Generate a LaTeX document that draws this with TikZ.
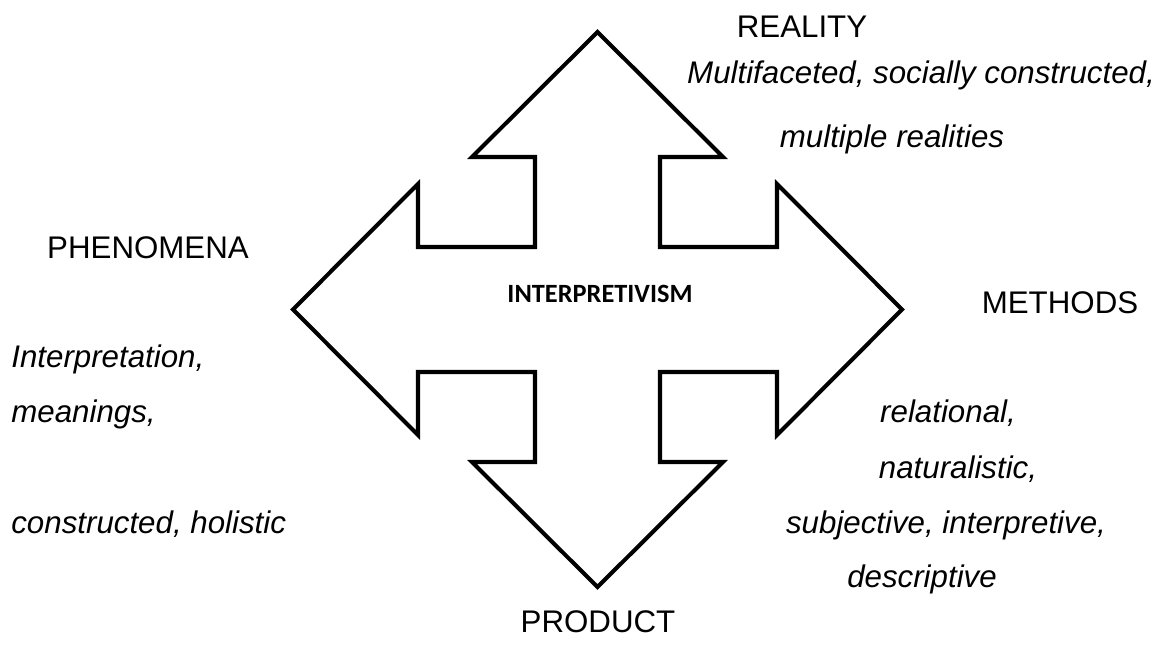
\documentclass[tikz,border=0pt]{standalone}
\usepackage{fontspec}
\setmainfont{Liberation Sans}
\newfontfamily\carlito{Carlito}

\begin{document}
\begin{tikzpicture}[x=0.02cm, y=-0.02cm,
    lbl/.style={anchor=base, inner sep=0pt, font=\fontsize{17.8}{21}\selectfont},
    note/.style={anchor=base, inner sep=0pt, font=\fontsize{17.8}{21}\selectfont\itshape},
    leftnote/.style={note, anchor=base west}]
    \useasboundingbox (0,0) rectangle (1167,646);

    % four-way arrow
    \draw [line width=2.3pt] (597.5,32) -- (723,157) -- (660,157) -- (660,247)
        -- (777,247) -- (777,184) -- (902,309.5) -- (777,435) -- (777,372)
        -- (660,372) -- (660,462) -- (723,462) -- (597.5,587) -- (472,462)
        -- (535,462) -- (535,372) -- (418,372) -- (418,435) -- (293,309.5)
        -- (418,184) -- (418,247) -- (535,247) -- (535,157) -- (472,157) -- cycle;

    \node [anchor=base, inner sep=0pt, font=\carlito\bfseries\fontsize{15}{18}\selectfont] (centre) at (600,302) {INTERPRETIVISM};

    % reality
    \node [lbl] (reality) at (802,37) {REALITY};
    \node [note] (reality1) at (921,83) {Multifaceted, socially constructed,};
    \node [note] (reality2) at (892,147) {multiple realities};

    % phenomena
    \node [lbl] (phenomena) at (148,258) {PHENOMENA};
    \node [leftnote] (phen1) at (11,367) {Interpretation,};
    \node [leftnote] (phen2) at (11,422) {meanings,};
    \node [leftnote] (phen3) at (11,533) {constructed, holistic};

    % methods
    \node [lbl] (methods) at (1060,313) {METHODS};
    \node [note] (meth1) at (948,422) {relational,};
    \node [note] (meth2) at (958,478) {naturalistic,};
    \node [note] (meth3) at (946,533) {subjective, interpretive,};
    \node [note] (meth4) at (922,587) {descriptive};

    % product
    \node [lbl] (product) at (598,632) {PRODUCT};
\end{tikzpicture}
\end{document}
